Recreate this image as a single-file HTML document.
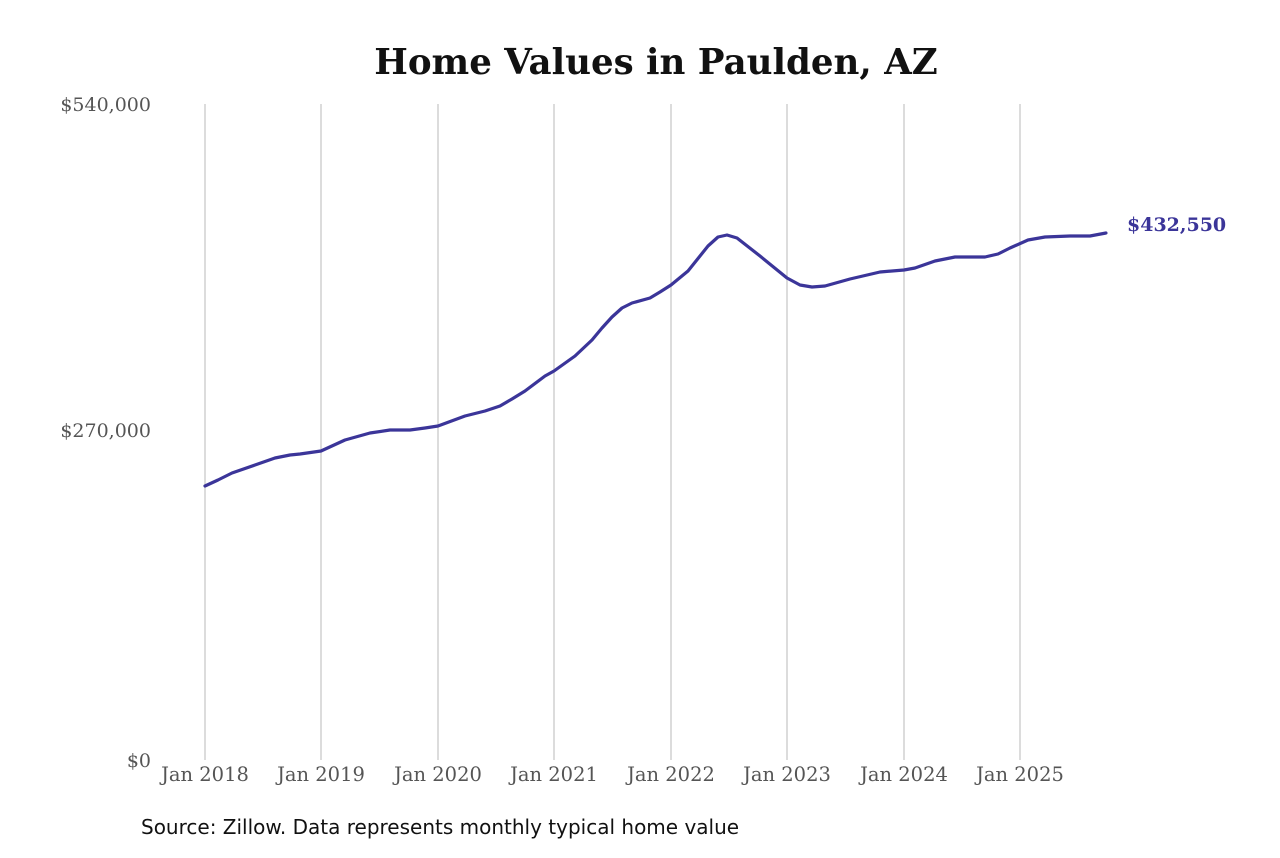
<!DOCTYPE html>
<html><head><meta charset="utf-8"><style>
html,body{margin:0;padding:0;background:#fff;}
</style></head><body>
<svg width="1280" height="853" viewBox="0 0 1280 853" xmlns="http://www.w3.org/2000/svg">
<rect width="1280" height="853" fill="#fff"/>
<text x="656" y="74" text-anchor="middle" font-family="DejaVu Serif, Liberation Serif, serif" font-weight="bold" font-size="35.6" fill="#111">Home Values in Paulden, AZ</text>
<g stroke="#c4c4c4" stroke-width="1.2">
<line x1="205" y1="104" x2="205" y2="760"/>
<line x1="321" y1="104" x2="321" y2="760"/>
<line x1="438" y1="104" x2="438" y2="760"/>
<line x1="554" y1="104" x2="554" y2="760"/>
<line x1="671" y1="104" x2="671" y2="760"/>
<line x1="787" y1="104" x2="787" y2="760"/>
<line x1="904" y1="104" x2="904" y2="760"/>
<line x1="1020" y1="104" x2="1020" y2="760"/>
</g>
<g font-family="DejaVu Serif, Liberation Serif, serif" font-size="19" fill="#555">
<text x="151" y="111" text-anchor="end">$540,000</text>
<text x="151" y="437" text-anchor="end">$270,000</text>
<text x="151" y="767" text-anchor="end">$0</text>
<g text-anchor="middle" font-size="19.5">
<text x="205" y="781">Jan 2018</text>
<text x="321" y="781">Jan 2019</text>
<text x="438" y="781">Jan 2020</text>
<text x="554" y="781">Jan 2021</text>
<text x="671" y="781">Jan 2022</text>
<text x="787" y="781">Jan 2023</text>
<text x="904" y="781">Jan 2024</text>
<text x="1020" y="781">Jan 2025</text>
</g>
</g>
<polyline fill="none" stroke="#3b3599" stroke-width="3.2" stroke-linejoin="round" stroke-linecap="round"
points="205,486 218,480 232,473 255,465 275,458 290,455 300,454 321,451 345,440 370,433 390,430 410,430 425,428 438,426 465,416 485,411 500,406 512,399 525,391 545,376 554,371 575,356 592,340 602,328 612,317 622,308 632,303 650,298 660,292 671,285 688,271 700,256 708,246 718,237 727,235 737,238 760,256 787,278 800,285 812,287 825,286 850,279 880,272 904,270 915,268 935,261 955,257 985,257 998,254 1010,248 1028,240 1045,237 1070,236 1090,236 1106,233"/>
<text x="1127" y="231" font-family="DejaVu Serif, Liberation Serif, serif" font-weight="bold" font-size="19" fill="#3b3599">$432,550</text>
<text x="141" y="834" font-family="DejaVu Sans, Liberation Sans, sans-serif" font-size="20" fill="#111">Source: Zillow. Data represents monthly typical home value</text>
</svg>
</body></html>
